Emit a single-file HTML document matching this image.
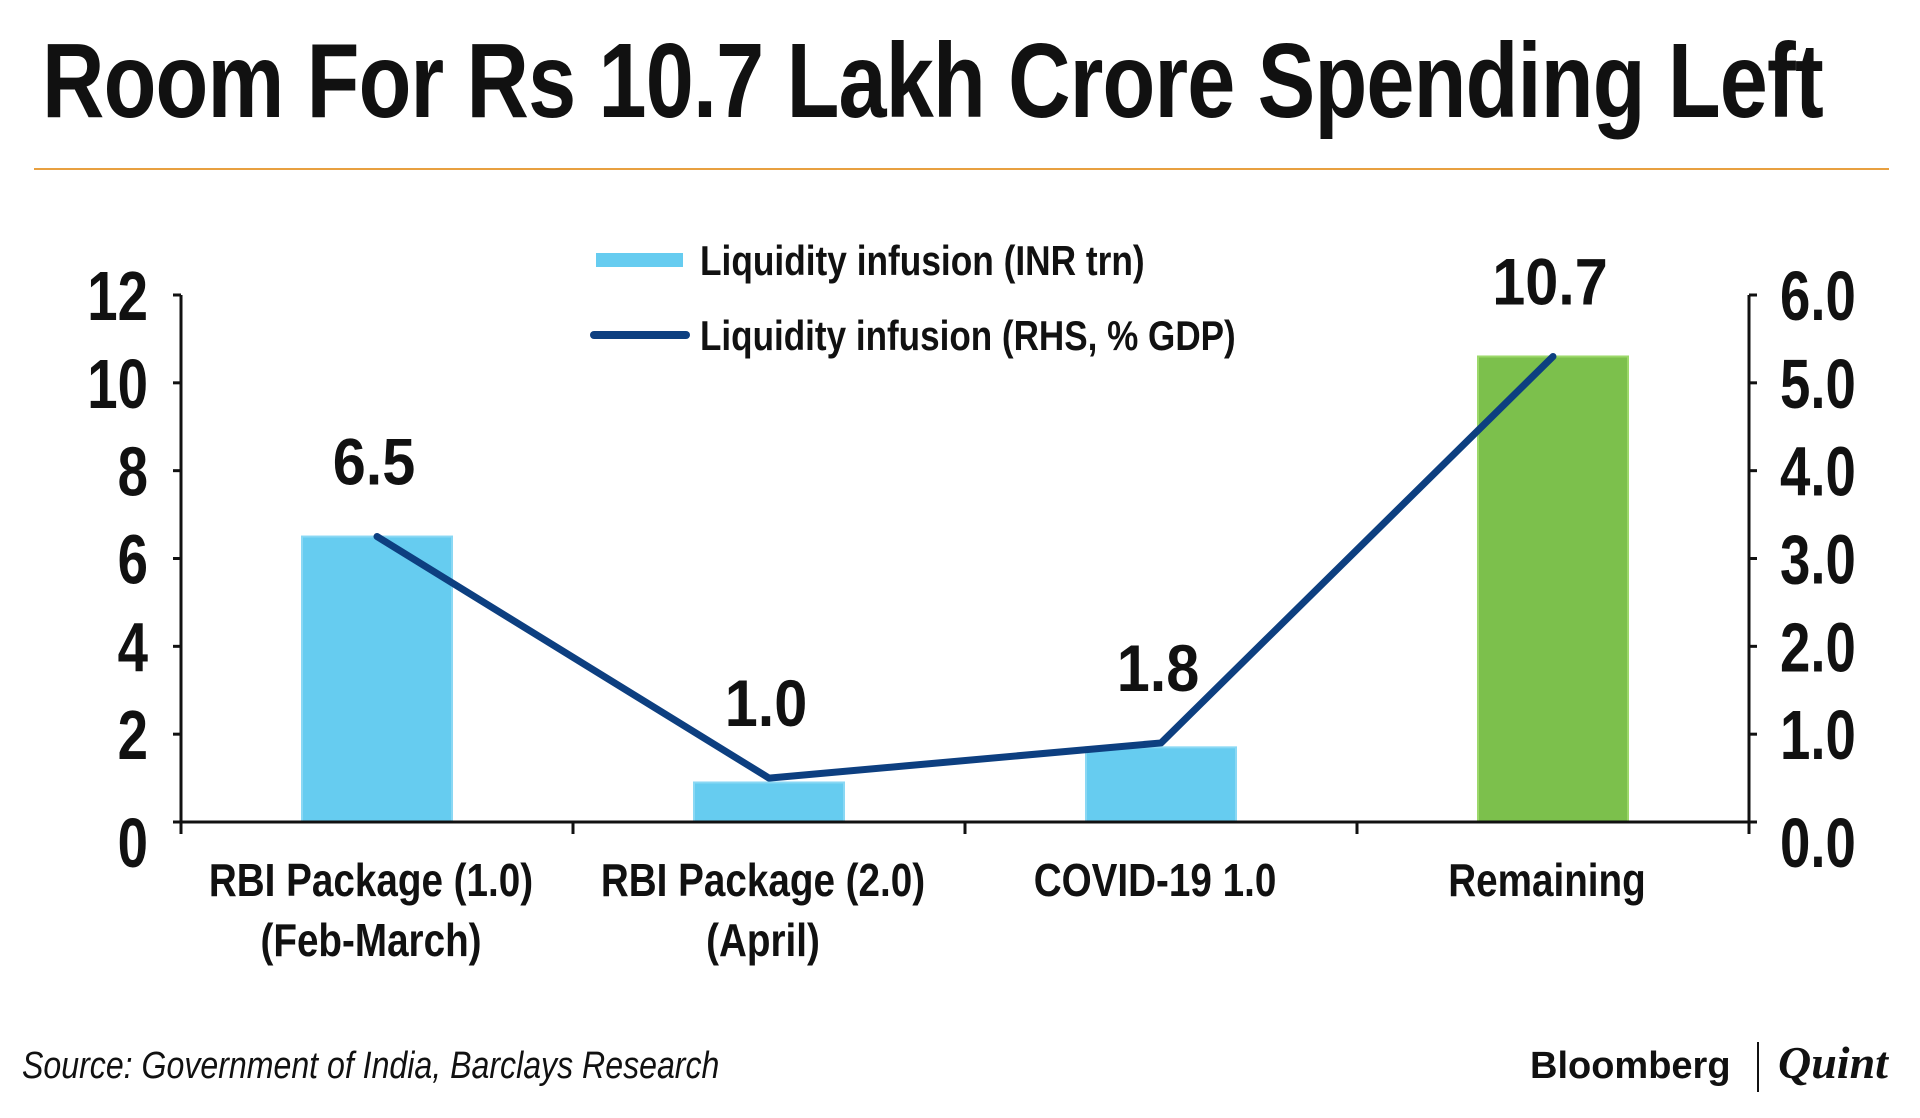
<!DOCTYPE html>
<html><head><meta charset="utf-8"><style>
html,body{margin:0;padding:0;background:#fff;}
svg{display:block;}
text{font-family:"Liberation Sans",sans-serif;font-weight:bold;fill:#111;}
</style></head><body>
<svg id="chart" width="1920" height="1118" viewBox="0 0 1920 1118">
<text x="0" y="0" font-size="106" transform="translate(42,117) scale(0.815,1)" letter-spacing="-1">Room For Rs 10.7 Lakh Crore Spending Left</text>
<line x1="34" y1="169" x2="1889" y2="169" stroke="#e8a040" stroke-width="2"/>
<g id="plot"></g>
<g>
<rect x="596" y="253" width="87" height="14" fill="#66ccf0"/>
<text font-size="42" transform="translate(700,275) scale(0.84,1)">Liquidity infusion (INR trn)</text>
<line x1="594" y1="335" x2="686" y2="335" stroke="#0d3f80" stroke-width="8" stroke-linecap="round"/>
<text font-size="42" transform="translate(700,350) scale(0.835,1)">Liquidity infusion (RHS, % GDP)</text>
</g>
<text font-size="38" font-style="italic" style="font-weight:normal" transform="translate(22,1078) scale(0.845,1)">Source: Government of India, Barclays Research</text>
<text font-size="38" transform="translate(1530,1078) scale(1.0,1)">Bloomberg</text>
<line x1="1758" y1="1042" x2="1758" y2="1092" stroke="#111" stroke-width="2"/>
<text font-size="46" font-style="italic" style="font-family:'Liberation Serif',serif" transform="translate(1778,1078)">Quint</text>
</svg>
<script>
const categories=["RBI Package (1.0)|(Feb-March)","RBI Package (2.0)|(April)","COVID-19 1.0","Remaining"];
const barValues=[6.5,0.9,1.7,10.6];
const barLabels=["6.5","1.0","1.8","10.7"];
const lineValues=[3.25,0.5,0.9,5.3];
const leftTicks=[0,2,4,6,8,10,12];
const rightTicks=["0.0","1.0","2.0","3.0","4.0","5.0","6.0"];
const NS="http://www.w3.org/2000/svg";
const g=document.getElementById("plot");
const X0=181,X1=1749,Y0=822,Y12=295;
const yL=v=>Y0-(v/12)*(Y0-Y12);
const yR=v=>Y0-(v/6)*(Y0-Y12);
const band=(X1-X0)/categories.length;
const xC=i=>X0+band*(i+0.5);
function el(t,a){const e=document.createElementNS(NS,t);for(const k in a)e.setAttribute(k,a[k]);g.appendChild(e);return e;}
barValues.forEach((v,i)=>{
 const b=el("rect",{x:xC(i)-75,y:yL(v),width:150,height:Y0-yL(v),fill:i===3?"#7cc04c":"#66ccf0",stroke:i===3?"#9cd86a":"#8ad8f4","stroke-width":2});
 
 
 const t=el("text",{"font-size":66,"text-anchor":"middle",transform:`translate(${xC(i)-3},${yL(Math.max(v,lineValues[i]*2))-52}) scale(0.9,1)`});
 t.textContent=barLabels[i];
 
 
 const parts=categories[i].split("|");
 parts.forEach((p,j)=>{
  const c=el("text",{"font-size":46,"text-anchor":"middle",transform:`translate(${xC(i)-6},${896+j*60}) scale(0.84,1)`});
  c.textContent=p;
  
  
 });
});
const ax=el("path",{d:`M${X0},${Y12} V${Y0} H${X1} V${Y12}`,stroke:"#111","stroke-width":3,fill:"none"});


for(let i=0;i<=categories.length;i++){
 const tk=el("line",{x1:X0+band*i,x2:X0+band*i,y1:Y0,y2:Y0+12,stroke:"#111","stroke-width":3});
 
 
}
leftTicks.forEach(v=>{
 const tk=el("line",{x1:X0-8,x2:X0,y1:yL(v),y2:yL(v),stroke:"#111","stroke-width":3});
 
 
 const t=el("text",{"font-size":70,"text-anchor":"end",transform:`translate(148,${yL(v)+(v===0?45:25)}) scale(0.78,1)`});
 t.textContent=v;
 
 
});
rightTicks.forEach((s,i)=>{
 const tk=el("line",{x1:X1,x2:X1+8,y1:yR(i),y2:yR(i),stroke:"#111","stroke-width":3});
 
 
 const t=el("text",{"font-size":70,transform:`translate(1780,${yR(i)+(i===0?45:25)}) scale(0.78,1)`});
 t.textContent=s;
 
 
});
const pts=lineValues.map((v,i)=>`${xC(i)},${yR(v)}`).join(" ");
const pl=el("polyline",{points:pts,fill:"none",stroke:"#0d3f80","stroke-width":7,"stroke-linejoin":"round","stroke-linecap":"round"});


</script>
</body></html>
